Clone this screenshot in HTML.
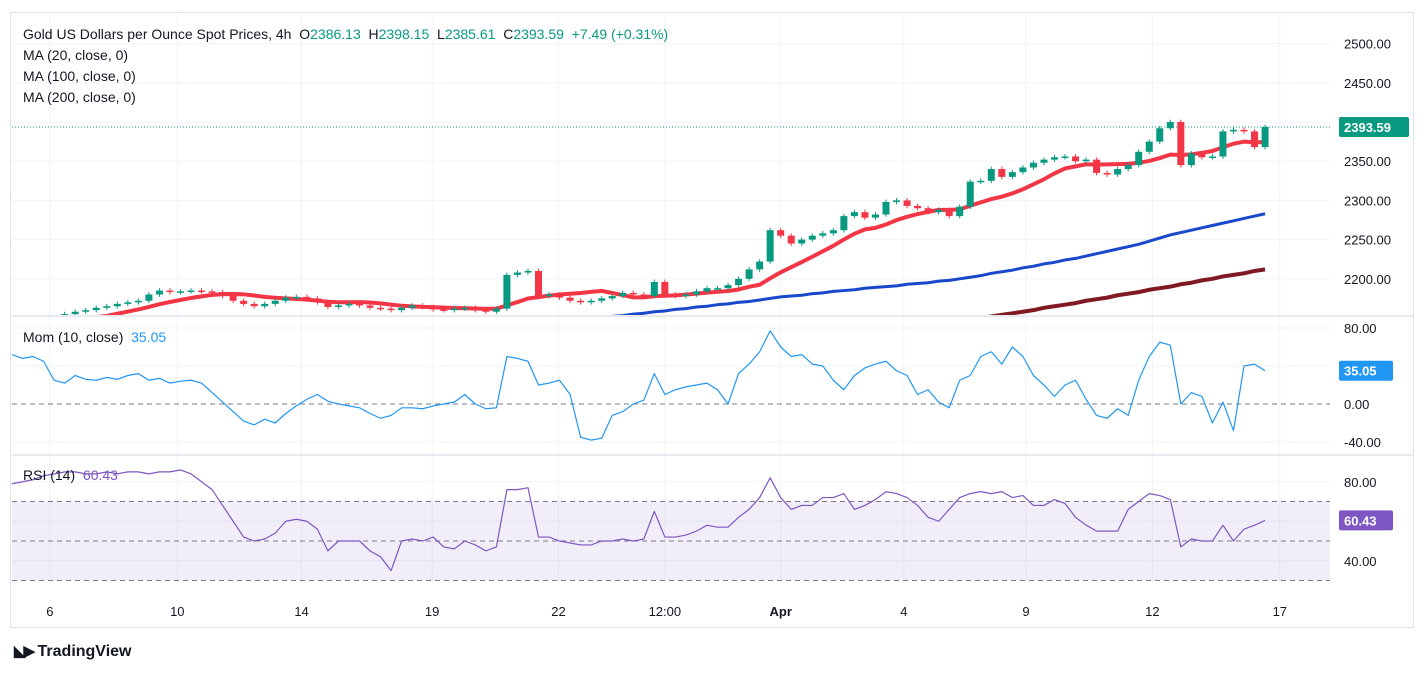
<!DOCTYPE html>
<html><head><meta charset="utf-8"><style>
body{margin:0;background:#fff;font-family:"Liberation Sans",sans-serif;}
svg{display:block}
</style></head><body>
<svg id="c" width="1427" height="673" xmlns="http://www.w3.org/2000/svg"></svg>
<script>
const closes=[2140,2142,2145,2148,2150,2155,2158,2160,2163,2165,2168,2170,2172,2180,2185,2183,2184,2185,2184,2183,
2178,2172,2168,2165,2168,2172,2176,2177,2175,2170,2164,2166,2168,2166,2163,2162,2160,2163,2166,2164,
2161,2160,2162,2163,2160,2158,2162,2205,2208,2210,2178,2180,2176,2172,2170,2172,2175,2178,2182,2180,
2178,2196,2180,2178,2180,2184,2188,2188,2192,2200,2212,2222,2262,2255,2245,2250,2255,2258,2262,2280,
2285,2278,2282,2298,2300,2293,2290,2285,2288,2280,2292,2324,2325,2340,2330,2336,2342,2348,2352,2355,
2356,2350,2352,2335,2333,2340,2345,2362,2375,2392,2400,2345,2360,2355,2356,2388,2390,2388,2368,2393.59];
const ma100Start=56;
const ma100=[2150,2152,2153,2155,2156,2158,2159,2161,2162,2164,2165,2167,2168,2170,2171,2173,2175,2177,2178,2179,
2181,2182,2184,2185,2186,2188,2189,2190,2191,2193,2194,2195,2197,2198,2200,2202,2204,2207,2209,2211,
2214,2216,2219,2221,2224,2226,2229,2232,2235,2238,2241,2244,2248,2252,2256,2259,2262,2265,2268,2271,
2274,2277,2280,2283];
const ma200Start=92;
const ma200=[2150,2152,2154,2156,2158,2160,2163,2165,2167,2169,2172,2174,2176,2179,2181,2183,2186,2188,2190,2193,
2195,2198,2200,2203,2205,2207,2210,2212];
const mom=[52,48,50,45,25,22,30,26,25,28,26,30,32,25,27,22,24,25,22,12,
2,-8,-18,-22,-16,-20,-10,-2,5,10,3,0,-2,-4,-10,-15,-12,-4,-4,-5,
-2,0,2,10,0,-5,-4,50,48,45,20,22,25,10,-35,-38,-36,-12,-8,0,
4,32,10,15,18,20,22,15,0,32,42,55,77,60,50,52,42,40,25,15,
30,38,42,45,35,30,10,15,2,-4,25,30,50,55,42,60,50,30,20,8,
20,25,5,-12,-15,-5,-12,25,50,65,62,0,12,8,-20,2,-28,40,42,35.05];
const rsi=[79,80,81,83,84,85,85,84,84,85,84,85,85,84,85,85,86,84,80,76,
68,60,52,50,51,54,60,61,60,56,45,50,50,50,45,42,35,50,51,50,
52,47,46,50,48,45,47,76,76,77,52,52,50,49,48,48,50,50,51,50,
51,65,52,52,53,55,58,57,57,62,66,72,82,72,66,68,68,72,72,74,
66,68,71,75,74,72,68,62,60,66,72,74,75,74,75,72,73,68,68,71,
69,62,58,55,55,55,66,70,74,73,71,47,51,50,50,58,50,56,58,60.43];
const priceTicks=[2500,2450,2350,2300,2250,2200];
const momTicks=[80,0,-40];
const rsiTicks=[80,40];
const timeLabels=["6","10","14","19","22","12:00","Apr","4","9","12","17"];
const timeIdx=[3.6,15.7,27.5,39.9,51.9,62,73,84.7,96.3,108.3,120.4];

const NS="http://www.w3.org/2000/svg";
const svg=document.getElementById('c');
function el(t,a,p){const e=document.createElementNS(NS,t);for(const k in a)e.setAttribute(k,a[k]);(p||svg).appendChild(e);return e;}
const X=i=>12+i*10.53;
const PY=p=>122-(p-2400)*39.2/50;
const MY=v=>404-v*0.95;
const RY=v=>541-(v-50)*1.975;
const L=12,R=1330;

let f=el('rect',{x:10.5,y:12.5,width:1403,height:615,fill:'none',stroke:'#e0e3eb'});


timeIdx.forEach(t=>{let g=el('line',{x1:X(t),x2:X(t),y1:13,y2:582,stroke:'#f0f3fa'});

});
[2500,2450,2400,2350,2300,2250,2200].forEach(p=>{let g=el('line',{x1:L,x2:R,y1:PY(p),y2:PY(p),stroke:'#f0f3fa'});

});
[80,40,-40].forEach(v=>{let g=el('line',{x1:L,x2:R,y1:MY(v),y2:MY(v),stroke:'#f0f3fa'});

});
[80,60,40].forEach(v=>{let g=el('line',{x1:L,x2:R,y1:RY(v),y2:RY(v),stroke:'#f0f3fa'});

});
[316,455].forEach(y=>{let s=el('line',{x1:L,x2:1413,y1:y,y2:y,stroke:'#e0e3eb',"stroke-width":1.5});

});

const defs=el('defs',{});
const cp=el('clipPath',{id:'pc'},defs);el('rect',{x:L,y:13,width:R-L,height:302},cp);
const pg=el('g',{'clip-path':'url(#pc)'});


let cl=el('line',{x1:L,x2:R,y1:PY(closes[closes.length-1]),y2:PY(closes[closes.length-1]),stroke:'#089981','stroke-dasharray':'1 2'},pg);


function poly(pts,color,w,parent,name){const e=el('polyline',{points:pts.map(p=>p.join(',')).join(' '),fill:'none',stroke:color,'stroke-width':w,'stroke-linejoin':'round'},parent);

return e;}
let m20=[];for(let i=0;i<closes.length;i++){let s=0,n=0;for(let j=Math.max(0,i-9);j<=i;j++){s+=closes[j];n++;}m20.push([X(i),PY(s/n)]);}
poly(m20,'#f23645',4,pg,'ma-20-line');
poly(ma100.map((v,k)=>[X(ma100Start+k),PY(v)]),'#1848cc',3,pg,'ma-100-line');
poly(ma200.map((v,k)=>[X(ma200Start+k),PY(v)]),'#801922',4,pg,'ma-200-line');
for(let i=1;i<closes.length;i++){
 const o=closes[i-1],c=closes[i],up=c>=o,col=up?'#089981':'#f23645';
 const hi=Math.max(o,c)+3,lo=Math.min(o,c)-3;
 let w=el('line',{x1:X(i),x2:X(i),y1:PY(hi),y2:PY(lo),stroke:col},pg);
 
 
 let b=el('rect',{x:X(i)-3.5,y:PY(Math.max(o,c)),width:7,height:Math.max(1.5,Math.abs(PY(o)-PY(c))),fill:col},pg);
 
 
}
let z=el('line',{x1:L,x2:R,y1:MY(0),y2:MY(0),stroke:'#787b86','stroke-dasharray':'5 4'});


poly(mom.map((v,i)=>[X(i),MY(v)]),'#2196f3',1.2,svg,'momentum-line');
let band=el('rect',{x:L,y:RY(70),width:R-L,height:RY(30)-RY(70),fill:'#7e57c2','fill-opacity':0.1});


[70,50,30].forEach(v=>{let d=el('line',{x1:L,x2:R,y1:RY(v),y2:RY(v),stroke:'#787b86','stroke-dasharray':'5 4'});

});
poly(rsi.map((v,i)=>[X(i),RY(v)]),'#7e57c2',1.2,svg,'rsi-line');

function txt(x,y,s,o){const e=el('text',Object.assign({x:x,y:y,'font-size':13,fill:'#131722','font-family':'Liberation Sans, sans-serif'},o||{}));e.textContent=s;return e;}
priceTicks.forEach(p=>{let t=txt(1344,PY(p)+5,p.toFixed(2));

});
momTicks.forEach(v=>{let t=txt(1344,MY(v)+5,v.toFixed(2));

});
rsiTicks.forEach(v=>{let t=txt(1344,RY(v)+5,v.toFixed(2));

});
timeLabels.forEach((s,k)=>{let t=txt(X(timeIdx[k]),616,s,{'text-anchor':'middle','font-weight':s==='Apr'?'bold':'normal'});

});
function badge(y,s,col,name){const g=el('g',{});


el('rect',{x:1339,y:y-10,width:m(s),height:20,rx:2,fill:col},g);
const t=el('text',{x:1344,y:y+5,'font-size':13,fill:'#fff','font-weight':'bold','font-family':'Liberation Sans, sans-serif'},g);t.textContent=s;}
function m(s){return s.length>5?70:54;}
badge(PY(closes[closes.length-1]),closes[closes.length-1].toFixed(2),'#089981','last-price-badge');
badge(MY(mom[mom.length-1]),mom[mom.length-1].toFixed(2),'#2196f3','mom-value-badge');
badge(RY(rsi[rsi.length-1]),rsi[rsi.length-1].toFixed(2),'#7e57c2','rsi-value-badge');
</script>
<div style="position:absolute;left:23px;top:24px;font-size:14px;color:#131722;line-height:21px;font-family:'Liberation Sans',sans-serif">
<div>Gold US Dollars per Ounce Spot Prices, 4h&nbsp; O<span style="color:#089981">2386.13</span>&nbsp; H<span style="color:#089981">2398.15</span>&nbsp; L<span style="color:#089981">2385.61</span>&nbsp; C<span style="color:#089981">2393.59</span>&nbsp; <span style="color:#089981">+7.49 (+0.31%)</span></div>
<div>MA (20, close, 0)</div>
<div>MA (100, close, 0)</div>
<div>MA (200, close, 0)</div>
</div>
<div style="position:absolute;left:23px;top:329px;font-size:14px;color:#131722">Mom (10, close)&nbsp; <span style="color:#2196f3">35.05</span></div>
<div style="position:absolute;left:23px;top:467px;font-size:14px;color:#131722">RSI (14)&nbsp; <span style="color:#7e57c2">60.43</span></div>
<div style="position:absolute;left:14px;top:642px;font-size:16px;font-weight:bold;color:#131722"><span style="font-size:15px;letter-spacing:-2px">◣▶</span>&nbsp;TradingView</div>
</body></html>
